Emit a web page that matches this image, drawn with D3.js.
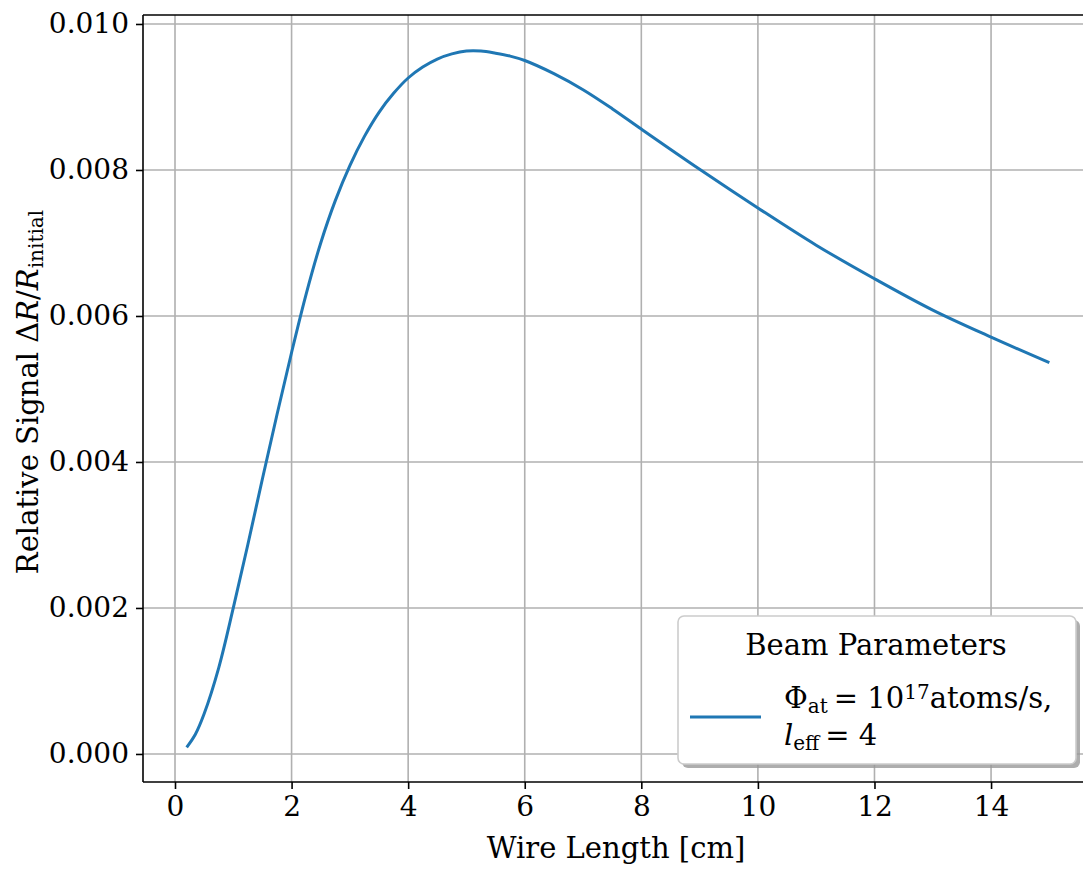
<!DOCTYPE html>
<html>
<head>
<meta charset="utf-8">
<script src="https://cdn.jsdelivr.net/npm/d3@7"></script>
<style>
  body { margin: 0; background: #fff; }
  svg { display: block; }
  svg text { font-family: "DejaVu Serif", "Liberation Serif", serif; fill: #000; }
</style>
</head>
<body>
<div id="chart"></div>
<script>
// wire length [cm] and relative signal
var wireLength = [0.2, 0.35, 0.5, 0.75, 1.0, 1.25, 1.5, 1.75, 2.0, 2.25, 2.5, 2.75, 3.0, 3.25, 3.5, 3.75, 4.0,
  4.25, 4.5, 4.75, 5.0, 5.25, 5.5, 5.75, 6.0, 6.5, 7.0, 7.5, 8.0, 9.0, 10.0, 11.0, 12.0, 13.0, 14.0, 15.0]
var signal = [0.00009, 0.00027, 0.00055, 0.00118, 0.002, 0.00287, 0.00377, 0.00465, 0.0055, 0.0063, 0.007,
  0.00758, 0.00806, 0.00846, 0.00879, 0.00905, 0.00926, 0.00941, 0.00952, 0.00959, 0.00963, 0.00963,
  0.0096, 0.00956, 0.0095, 0.00932, 0.0091, 0.00884, 0.00856, 0.00801, 0.00748, 0.00697, 0.00651,
  0.00608, 0.00571, 0.00536]
var xTicks = [0, 2, 4, 6, 8, 10, 12, 14]
var yTicks = [0, 0.002, 0.004, 0.006, 0.008, 0.010]

var W = 1083, H = 869
var margin = { top: 15, left: 143, bottom: 87 }
var plotH = H - margin.top - margin.bottom
var fontFam = '"DejaVu Serif", "Liberation Serif", serif'

var svg = d3.select('#chart').append('svg')
  .attr('width', W).attr('height', H)

var x = d3.scaleLinear().domain([-0.549, 15.74]).range([margin.left, margin.left + 16.289 * 58.29])
var y = d3.scaleLinear().domain([-0.000384, 0.010123]).range([margin.top + plotH, margin.top])

var g = svg.append('g')

// grid
g.selectAll('.gx').data(xTicks).enter().append('line')
  .attr('x1', d => x(d)).attr('x2', d => x(d))
  .attr('y1', margin.top).attr('y2', margin.top + plotH)
  .attr('stroke', '#b0b0b0').attr('stroke-width', 1.6)
g.selectAll('.gy').data(yTicks).enter().append('line')
  .attr('x1', margin.left).attr('x2', W)
  .attr('y1', d => y(d)).attr('y2', d => y(d))
  .attr('stroke', '#b0b0b0').attr('stroke-width', 1.6)

// curve
var line = d3.line()
  .x(d => x(d[0]))
  .y(d => y(d[1]))
  .curve(d3.curveCatmullRom.alpha(0.5))
g.append('path')
  .datum(wireLength.map((v, i) => [v, signal[i]]))
  .attr('d', line)
  .attr('fill', 'none')
  .attr('stroke', '#1f77b4')
  .attr('stroke-width', 3)

// axes
var xAxis = d3.axisBottom(x).tickValues(xTicks).tickSize(7).tickPadding(7).tickFormat(d3.format('d'))
var yAxis = d3.axisLeft(y).tickValues(yTicks).tickSize(7).tickPadding(7).tickFormat(d3.format('.3f'))

var gx = svg.append('g').attr('transform', 'translate(0,' + (margin.top + plotH) + ')').call(xAxis)
var gy = svg.append('g').attr('transform', 'translate(' + margin.left + ',0)').call(yAxis)
;[gx, gy].forEach(a => {
  a.attr('font-family', fontFam).attr('font-size', 28)
  a.select('.domain').remove()
  a.selectAll('line').attr('stroke', '#000').attr('stroke-width', 1.6)
})

// spines (left, bottom, top)
svg.append('line').attr('x1', margin.left).attr('x2', margin.left)
  .attr('y1', margin.top).attr('y2', margin.top + plotH).attr('stroke', '#000').attr('stroke-width', 1.6)
svg.append('line').attr('x1', margin.left).attr('x2', W)
  .attr('y1', margin.top + plotH).attr('y2', margin.top + plotH).attr('stroke', '#000').attr('stroke-width', 1.6)
svg.append('line').attr('x1', margin.left).attr('x2', W)
  .attr('y1', margin.top).attr('y2', margin.top).attr('stroke', '#000').attr('stroke-width', 1.6)

// axis labels
svg.append('text')
  .attr('x', 616).attr('y', 858)
  .attr('text-anchor', 'middle')
  .style('font-size', '29px')
  .text('Wire Length [cm]')

var yl = svg.append('text')
  .attr('transform', 'translate(38,392) rotate(-90)')
  .attr('text-anchor', 'middle')
  .style('font-size', '29px')
yl.append('tspan').text('Relative Signal Δ')
yl.append('tspan').style('font-style', 'italic').text('R')
yl.append('tspan').text('/')
yl.append('tspan').style('font-style', 'italic').text('R')
yl.append('tspan').attr('baseline-shift', '-25%').style('font-size', '20px').text('initial')

// legend
var lg = svg.append('g')
lg.append('rect').attr('x', 682).attr('y', 620).attr('width', 398).attr('height', 148)
  .attr('rx', 6).attr('fill', '#999').attr('opacity', 0.8)
lg.append('rect').attr('x', 678).attr('y', 616).attr('width', 398).attr('height', 148)
  .attr('rx', 6).attr('fill', '#fff').attr('stroke', '#cccccc').attr('stroke-width', 1.6)
lg.append('text').attr('x', 876).attr('y', 655).attr('text-anchor', 'middle')
  .style('font-size', '29px').text('Beam Parameters')
lg.append('line').attr('x1', 690).attr('x2', 761).attr('y1', 717).attr('y2', 717)
  .attr('stroke', '#1f77b4').attr('stroke-width', 3)
var t1 = lg.append('text').attr('x', 784).attr('y', 708).style('font-size', '29px')
t1.append('tspan').text('Φ')
t1.append('tspan').attr('baseline-shift', '-25%').style('font-size', '20px').text('at')
t1.append('tspan').attr('dx', 6).text('= 10')
t1.append('tspan').attr('baseline-shift', '45%').style('font-size', '20px').text('17')
t1.append('tspan').text('atoms/s,')
var t2 = lg.append('text').attr('x', 784).attr('y', 745).style('font-size', '29px')
t2.append('tspan').style('font-style', 'italic').text('l')
t2.append('tspan').attr('baseline-shift', '-25%').style('font-size', '20px').text('eff')
t2.append('tspan').attr('dx', 6).text('= 4')
</script>
</body>
</html>
